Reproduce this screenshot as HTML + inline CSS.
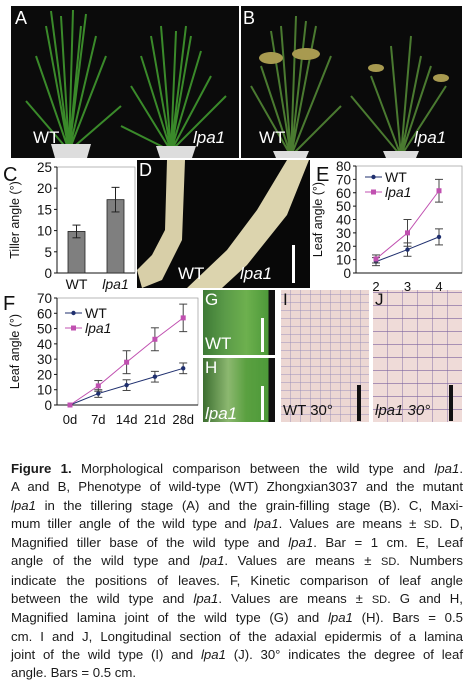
<!DOCTYPE html>
<html><head><meta charset="utf-8">
<style>
body{margin:0;width:469px;height:692px;background:#fff;overflow:hidden;position:relative;font-family:"Liberation Sans",sans-serif}
.p{position:absolute;overflow:hidden}
.lbl{position:absolute;color:#fff;font-size:17px}
.cap{position:absolute;left:11px;top:460px;width:452px;font-family:"Liberation Sans",sans-serif;font-size:13.2px;line-height:18.3px;color:#1a1a1a}
.cap div{text-align:justify;text-align-last:justify;white-space:nowrap}
.cap div.last{text-align-last:left}
</style></head><body>

<div class="p" style="left:11px;top:6px;width:228px;height:152px;background:#0b0b0b">
<svg width="228" height="152">
<g stroke="#3a8a2a" stroke-width="2" fill="none">
<path d="M58 145 L40 5 M58 145 L50 10 M58 145 L62 4 M58 145 L75 8 M58 145 L85 30 M58 145 L95 50 M58 145 L25 50 M58 145 L15 95 M58 145 L110 100 M58 145 L70 20 M58 145 L35 20"/>
<path d="M160 145 L140 30 M160 145 L150 20 M160 145 L165 25 M160 145 L180 30 M160 145 L200 70 M160 145 L120 80 M160 145 L130 50 M160 145 L190 45 M160 145 L215 90 M160 145 L110 120 M160 145 L175 20"/>
</g>
<path d="M40 138 L80 138 L76 152 L44 152Z" fill="#ddd"/>
<path d="M145 140 L185 140 L181 152 L149 152Z" fill="#ddd"/>
</svg>
<div class="lbl" style="left:4px;top:2px;font-size:18px">A</div>
<div class="lbl" style="left:22px;top:122px">WT</div>
<div class="lbl" style="left:182px;top:122px;font-style:italic">lpa1</div>
</div>

<div class="p" style="left:241px;top:6px;width:221px;height:152px;background:#0a0a0a">
<svg width="221" height="152">
<g stroke="#4a7a30" stroke-width="2" fill="none">
<path d="M50 150 L40 20 M50 150 L55 10 M50 150 L65 15 M50 150 L90 50 M50 150 L20 60 M50 150 L10 80 M50 150 L100 100 M50 150 L30 25 M50 150 L75 20"/>
<path d="M160 150 L150 40 M160 150 L170 30 M160 150 L130 70 M160 150 L190 60 M160 150 L110 90 M160 150 L205 80 M160 150 L180 50"/>
</g>
<g fill="#a89a50"><ellipse cx="30" cy="52" rx="12" ry="6"/><ellipse cx="65" cy="48" rx="14" ry="6"/><ellipse cx="135" cy="62" rx="8" ry="4"/><ellipse cx="200" cy="72" rx="8" ry="4"/></g>
<path d="M32 145 L68 145 L65 152 L35 152Z" fill="#ddd"/>
<path d="M142 145 L178 145 L175 152 L145 152Z" fill="#ddd"/>
</svg>
<div class="lbl" style="left:2px;top:2px;font-size:18px">B</div>
<div class="lbl" style="left:18px;top:122px">WT</div>
<div class="lbl" style="left:173px;top:122px;font-style:italic">lpa1</div>
</div>

<div class="p" style="left:137px;top:160px;width:173px;height:128px;background:#080808">
<svg width="173" height="128">
<path d="M30 0 L48 0 L45 80 L25 120 L5 128 L0 110 L15 95 L28 70Z" fill="#d8cfa8"/>
<path d="M150 0 L172 0 L150 55 L110 105 L85 128 L50 128 L90 90 L120 50Z" fill="#dcd4ae"/>
<rect x="155" y="85" width="3" height="38" fill="#fff"/>
</svg>
<div class="lbl" style="left:2px;top:0px;font-size:18px">D</div>
<div class="lbl" style="left:41px;top:104px">WT</div>
<div class="lbl" style="left:103px;top:104px;font-style:italic">lpa1</div>
</div>

<div class="p" style="left:203px;top:290px;width:72px;height:65px;background:linear-gradient(90deg,#3e7a36 0%,#5a9a48 30%,#6db04e 60%,#4e9a3a 90%,#111 92%)">
<div class="lbl" style="left:2px;top:0">G</div>
<div class="lbl" style="left:2px;top:44px">WT</div>
<div style="position:absolute;left:58px;top:28px;width:3px;height:34px;background:#fff"></div>
</div>
<div class="p" style="left:203px;top:358px;width:72px;height:64px;background:linear-gradient(90deg,#3c6e30 0%,#8cb870 35%,#5aa040 60%,#4e9a3a 90%,#111 92%)">
<div class="lbl" style="left:2px;top:0">H</div>
<div class="lbl" style="left:2px;top:46px;font-style:italic">lpa1</div>
<div style="position:absolute;left:58px;top:28px;width:3px;height:34px;background:#fff"></div>
</div>
<div class="p" style="left:281px;top:290px;width:88px;height:132px;background:repeating-linear-gradient(0deg,#ecd7d3 0 7px,#c4b4c8 7px 8px),#e9d4d0">
<div style="position:absolute;inset:0;background:repeating-linear-gradient(90deg,transparent 0 9px,rgba(150,140,180,.45) 9px 10px)"></div>
<div class="lbl" style="left:2px;top:0;color:#111">I</div>
<div class="lbl" style="left:2px;top:112px;color:#111;font-size:15px">WT 30°</div>
<div style="position:absolute;left:76px;top:95px;width:4px;height:36px;background:#111"></div>
</div>
<div class="p" style="left:373px;top:290px;width:89px;height:132px;background:repeating-linear-gradient(0deg,#efdbd8 0 12px,#a890b4 12px 13px),#eedad7">
<div style="position:absolute;inset:0;background:repeating-linear-gradient(90deg,transparent 0 14px,rgba(120,100,160,.45) 14px 15px)"></div>
<div class="lbl" style="left:2px;top:0;color:#111">J</div>
<div class="lbl" style="left:2px;top:112px;color:#111;font-size:15px;font-style:italic">lpa1 30°</div>
<div style="position:absolute;left:76px;top:95px;width:4px;height:36px;background:#111"></div>
</div>

<svg id="charts" width="469" height="692" style="position:absolute;left:0;top:0;pointer-events:none" font-family="Liberation Sans, sans-serif"></svg>

<div class="cap">
<div><b>Figure 1.</b> Morphological comparison between the wild type and <i>lpa1</i>.</div>
<div>A and B, Phenotype of wild-type (WT) Zhongxian3037 and the mutant</div>
<div><i>lpa1</i> in the tillering stage (A) and the grain-filling stage (B). C, Maxi-</div>
<div>mum tiller angle of the wild type and <i>lpa1</i>. Values are means ± <small>SD</small>. D,</div>
<div>Magnified tiller base of the wild type and <i>lpa1</i>. Bar = 1 cm. E, Leaf</div>
<div>angle of the wild type and <i>lpa1</i>. Values are means ± <small>SD</small>. Numbers</div>
<div>indicate the positions of leaves. F, Kinetic comparison of leaf angle</div>
<div>between the wild type and <i>lpa1</i>. Values are means ± <small>SD</small>. G and H,</div>
<div>Magnified lamina joint of the wild type (G) and <i>lpa1</i> (H). Bars = 0.5</div>
<div>cm. I and J, Longitudinal section of the adaxial epidermis of a lamina</div>
<div>joint of the wild type (I) and <i>lpa1</i> (J). 30° indicates the degree of leaf</div>
<div class="last">angle. Bars = 0.5 cm.</div>
</div>

<script>
// Chart C data
const cCats = ['WT','lpa1'];
const cVals = [9.8, 17.3];
const cErr = [1.5, 2.9];
const cTicks = [0,5,10,15,20,25];
// Chart E data
const eCats = ['2','3','4'];
const eWT = [8.5, 17.5, 27];
const eWTErr = [3, 5, 6];
const eLpa = [10.5, 30, 61.5];
const eLpaErr = [3, 10, 8.5];
const eTicks = [0,10,20,30,40,50,60,70,80];
// Chart F data
const fCats = ['0d','7d','14d','21d','28d'];
const fWT = [0, 7.5, 13, 18.5, 24];
const fWTErr = [0, 2.5, 3.5, 3.5, 3.5];
const fLpa = [0, 12.5, 28, 43, 57];
const fLpaErr = [0, 3.5, 7.5, 7.5, 9];
const fTicks = [0,10,20,30,40,50,60,70];

const NS='http://www.w3.org/2000/svg';
const svg=document.getElementById('charts');
function mk(tag,attrs,parent,text){const e=document.createElementNS(NS,tag);for(const k in attrs)e.setAttribute(k,attrs[k]);if(text!==undefined)e.textContent=text;(parent||svg).appendChild(e);return e;}

function axes(g,x0,x1,y0,y1,ticks,ymax,title,titleX){
  const ys=v=>y0-(v/ymax)*(y0-y1);
  mk('rect',{x:x0,y:y1,width:x1-x0,height:y0-y1,fill:'none',stroke:'#999','stroke-width':0.7},g);
  mk('line',{x1:x0,y1:y1,x2:x0,y2:y0,stroke:'#111','stroke-width':1},g);
  mk('line',{x1:x0,y1:y0,x2:x1,y2:y0,stroke:'#111','stroke-width':1},g);
  ticks.forEach(t=>{
    mk('line',{x1:x0-3,y1:ys(t),x2:x0,y2:ys(t),stroke:'#111'},g);
    const tx=mk('text',{x:x0-5,y:ys(t)+5,'text-anchor':'end','font-size':13.5,fill:'#111'},g,t);
    
    
  });
  const tt=mk('text',{x:titleX,y:(y0+y1)/2,'text-anchor':'middle','font-size':12.5,fill:'#111',transform:`rotate(-90 ${titleX} ${(y0+y1)/2})`},g,title);
  
  
  return ys;
}
function errbar(g,x,yLo,yHi,c){
  mk('line',{x1:x,y1:yLo,x2:x,y2:yHi,stroke:c||'#444'},g);
  mk('line',{x1:x-4,y1:yLo,x2:x+4,y2:yLo,stroke:c||'#444'},g);
  mk('line',{x1:x-4,y1:yHi,x2:x+4,y2:yHi,stroke:c||'#444'},g);
}

// ---- Chart C
(function(){
  const g=mk('g',{});
  
  
  mk('text',{x:3,y:181,'font-size':20,fill:'#111'},g,'C');
  const x0=57,x1=135,y0=273,y1=167;
  const ys=axes(g,x0,x1,y0,y1,cTicks,25,'Tiller angle (°)',19);
  const xs=i=>x0+(i+0.5)*(x1-x0)/cCats.length;
  cCats.forEach((c,i)=>{
    const b=mk('rect',{x:xs(i)-8.5,y:ys(cVals[i]),width:17,height:y0-ys(cVals[i]),fill:'#7f7f7f',stroke:'#222','stroke-width':0.8},g);
    
    
    errbar(g,xs(i),ys(cVals[i]-cErr[i]),ys(cVals[i]+cErr[i]),'#222');
    const t=mk('text',{x:xs(i),y:289,'text-anchor':'middle','font-size':14,fill:'#111','font-style':i?'italic':'normal'},g,c);
    
    
  });
})();

function lineChart(name,label,lx,ly,x0,x1,y0,y1,ticks,ymax,cats,xpos,wt,wte,lp,lpe,legY,legX,xlabY,titleX){
  const g=mk('g',{});
  
  
  mk('text',{x:lx,y:ly,'font-size':20,fill:'#111'},g,label);
  const ys=axes(g,x0,x1,y0,y1,ticks,ymax,'Leaf angle (°)',titleX);
  cats.forEach((c,i)=>{
    const t=mk('text',{x:xpos(i),y:xlabY,'text-anchor':'middle','font-size':13,fill:'#111'},g,c);
    
    
  });
  [[wt,wte,'#1f2f6e','circle'],[lp,lpe,'#c050b0','square']].forEach(([v,e,col,sh],si)=>{
    v.forEach((d,i)=>{ if(e[i]>0) errbar(g,xpos(i),ys(d-e[i]),ys(d+e[i]),'#444'); });
    const pl=mk('polyline',{points:v.map((d,i)=>xpos(i)+','+ys(d)).join(' '),fill:'none',stroke:col,'stroke-width':1},g);
    
    
    v.forEach((d,i)=>{
      let m;
      if(sh==='circle') m=mk('circle',{cx:xpos(i),cy:ys(d),r:2.2,fill:col},g);
      else m=mk('rect',{x:xpos(i)-2.5,y:ys(d)-2.5,width:5,height:5,fill:col},g);
      
      
    });
    const yy=legY+si*15;
    mk('line',{x1:legX,y1:yy,x2:legX+17,y2:yy,stroke:col},g);
    if(sh==='circle') mk('circle',{cx:legX+8.5,cy:yy,r:2.2,fill:col},g);
    else mk('rect',{x:legX+6,y:yy-2.5,width:5,height:5,fill:col},g);
    const lt=mk('text',{x:legX+20,y:yy+5,'font-size':14,fill:'#111','font-style':si?'italic':'normal'},g,si?'lpa1':'WT');
    
    
  });
}
lineChart('leaf-angle-position-chart','E',316,181,356,462,273,166,eTicks,80,eCats,i=>376+i*31.5,eWT,eWTErr,eLpa,eLpaErr,177,365,291,322);
lineChart('leaf-angle-kinetic-chart','F',3,310,57,198,405,298,fTicks,70,fCats,i=>70+i*28.3,fWT,fWTErr,fLpa,fLpaErr,313,65,424,19);
</script>
</body></html>
